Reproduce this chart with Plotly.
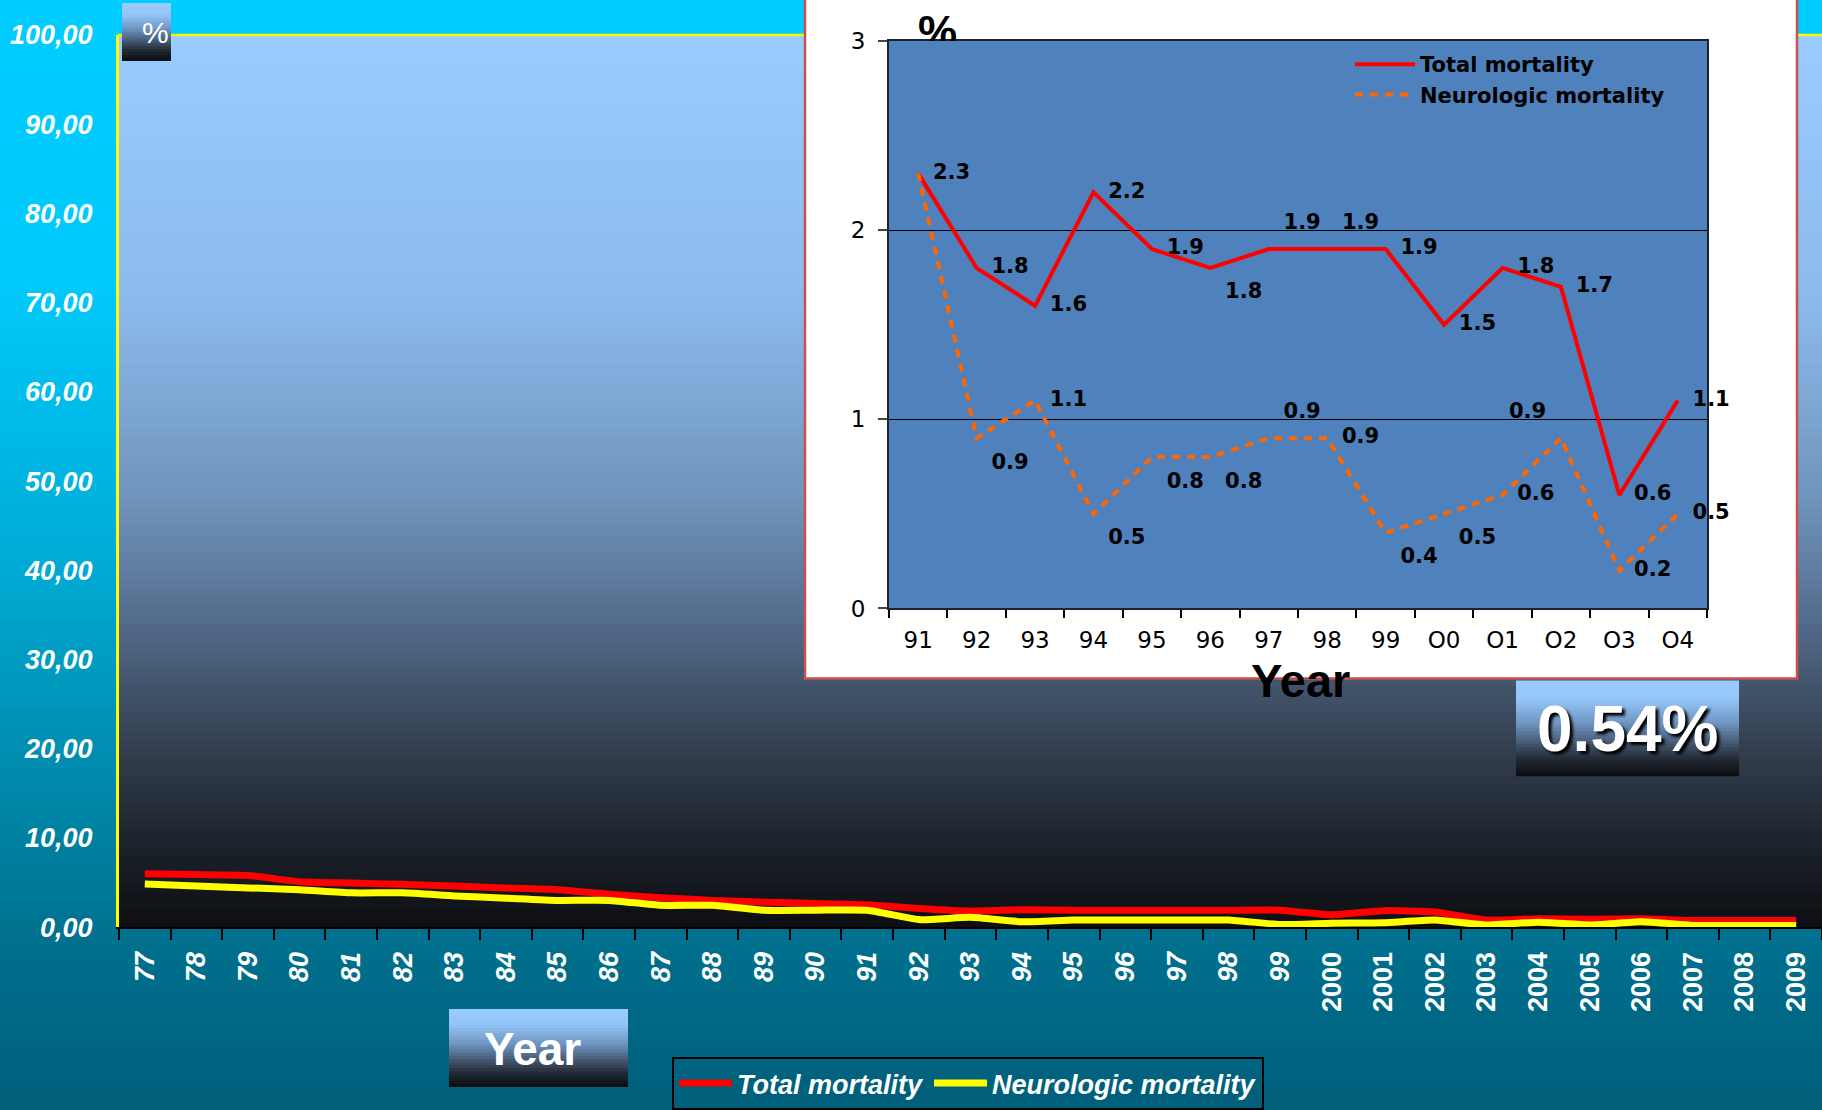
import plotly.graph_objects as go

W, H = 1822, 1110

# ---------------- data ----------------
main_years = ["77", "78", "79", "80", "81", "82", "83", "84", "85", "86", "87", "88",
              "89", "90", "91", "92", "93", "94", "95", "96", "97", "98", "99",
              "2000", "2001", "2002", "2003", "2004", "2005", "2006", "2007", "2008", "2009"]
main_total = [6.0, 5.9, 5.8, 5.1, 4.95, 4.8, 4.6, 4.4, 4.2, 3.7, 3.3, 3.0,
              2.8, 2.65, 2.5, 2.1, 1.8, 1.95, 1.9, 1.9, 1.9, 1.9, 1.9,
              1.4, 1.85, 1.7, 0.8, 0.95, 0.9, 0.95, 0.75, 0.75, 0.75]
main_neuro = [4.85, 4.6, 4.4, 4.2, 3.85, 3.85, 3.5, 3.25, 3.0, 3.0, 2.45, 2.45,
              1.9, 1.9, 1.9, 0.85, 1.1, 0.6, 0.8, 0.8, 0.8, 0.8, 0.3,
              0.45, 0.5, 0.8, 0.25, 0.55, 0.25, 0.6, 0.2, 0.2, 0.2]
y_tick_vals = [0, 10, 20, 30, 40, 50, 60, 70, 80, 90, 100]
y_tick_labels = ["0,00", "10,00", "20,00", "30,00", "40,00", "50,00",
                 "60,00", "70,00", "80,00", "90,00", "100,00"]

inset_years = ["91", "92", "93", "94", "95", "96", "97", "98", "99", "O0", "O1", "O2", "O3", "O4"]
inset_total = [2.3, 1.8, 1.6, 2.2, 1.9, 1.8, 1.9, 1.9, 1.9, 1.5, 1.8, 1.7, 0.6, 1.1]
inset_neuro = [2.3, 0.9, 1.1, 0.5, 0.8, 0.8, 0.9, 0.9, 0.4, 0.5, 0.6, 0.9, 0.2, 0.5]
inset_y_ticks = [0, 1, 2, 3]
inset_grid_vals = [1, 2]

series_names = ["Total mortality", "Neurologic mortality"]
highlight_text = "0.54%"
axis_unit = "%"
axis_title = "Year"

# ---------------- styles ----------------
BG_STOPS = [(0, (0, 204, 255)), (0.25, (0, 202, 252)), (0.5, (0, 172, 214)),
            (0.7, (0, 138, 172)), (0.85, (0, 112, 142)), (1.0, (0, 94, 122))]
PLOT_STOPS = [(0, (153, 204, 255)), (0.3, (140, 186, 236)), (0.52, (112, 148, 188)),
              (0.67, (80, 104, 134)), (0.78, (55, 68, 86)), (0.9, (30, 36, 45)), (1.0, (12, 14, 18))]
BOX_STOPS = [(0, (153, 204, 255)), (0.2, (148, 197, 247)), (0.45, (110, 148, 192)),
             (0.65, (70, 90, 115)), (0.82, (35, 42, 52)), (1.0, (10, 12, 15))]

ARIAL = "Liberation Sans, Arial, sans-serif"
DEJAVU = "DejaVu Sans, sans-serif"
FRAME = "#1B2230"


def lerp_color(stops, t):
    for (t0, c0), (t1, c1) in zip(stops, stops[1:]):
        if t <= t1:
            f = (t - t0) / (t1 - t0) if t1 > t0 else 0
            return "rgb(%d,%d,%d)" % tuple(round(a + (b - a) * f) for a, b in zip(c0, c1))
    return "rgb(%d,%d,%d)" % stops[-1][1]


shapes = []


def add_gradient(x0, x1, y0, y1, stops, n):
    h = (y1 - y0) / n
    for k in range(n):
        ya = y0 + k * h
        yb = min(y1, ya + h + 1)
        shapes.append(dict(type="rect", xref="paper", yref="paper", layer="below",
                           x0=x0 / W, x1=x1 / W, y0=1 - yb / H, y1=1 - ya / H,
                           fillcolor=lerp_color(stops, (k + 0.5) / n), line=dict(width=0)))


def px(x):
    return x / W


def py(y):
    return 1 - y / H


# backgrounds
add_gradient(0, W, 0, H, BG_STOPS, 111)
add_gradient(119, W, 35, 928, PLOT_STOPS, 100)
shapes.append(dict(type="line", xref="paper", yref="paper", layer="below",
                   x0=px(118), x1=1, y0=py(35), y1=py(35), line=dict(color="#FFFF00", width=2.5)))
add_gradient(122, 171, 3, 61, BOX_STOPS, 20)
# inset frame
shapes.append(dict(type="rect", xref="paper", yref="paper", layer="below",
                   x0=px(805), x1=px(1797), y0=py(679), y1=py(-6),
                   fillcolor="white", line=dict(color="#C8504D", width=2.5)))
shapes.append(dict(type="rect", xref="paper", yref="paper", layer="below",
                   x0=px(888), x1=px(1708), y0=py(610), y1=py(40),
                   fillcolor="#4F81BD", line=dict(width=0)))
add_gradient(1516, 1739, 681, 777, BOX_STOPS, 30)
add_gradient(449, 628, 1010, 1088, BOX_STOPS, 25)

fig = go.Figure()

# main chart lines
fig.add_trace(go.Scatter(x=main_years, y=main_total, name=series_names[0], mode="lines",
                         line=dict(color="#FF0000", width=7, shape="spline", smoothing=0.5),
                         xaxis="x", yaxis="y", legend="legend"))
fig.add_trace(go.Scatter(x=main_years, y=main_neuro, name=series_names[1], mode="lines",
                         line=dict(color="#FFFF00", width=7, shape="spline", smoothing=0.5),
                         xaxis="x", yaxis="y", legend="legend"))

# inset lines
total_pos = ["middle right", "middle right", "middle right", "middle right", "middle right",
             "bottom right", "top right", "top right", "middle right", "middle right",
             "middle right", "middle right", "middle right", "middle right"]
neuro_pos = ["middle right", "bottom right", "middle right", "bottom right", "bottom right",
             "bottom right", "top right", "middle right", "bottom right", "bottom right",
             "middle right", "top left", "middle right", "middle right"]
neuro_text = ["" if i == 0 else f"{v:g}" for i, v in enumerate(inset_neuro)]

fig.add_trace(go.Scatter(x=inset_years, y=inset_total, name=series_names[0],
                         mode="lines+markers+text", text=[f"{v:g}" for v in inset_total],
                         textposition=total_pos,
                         textfont=dict(family=DEJAVU, size=21, color="black", weight="bold"),
                         marker=dict(size=22, color="rgba(0,0,0,0)"),
                         line=dict(color="#FF0000", width=4),
                         xaxis="x2", yaxis="y2", legend="legend2", cliponaxis=False))
fig.add_trace(go.Scatter(x=inset_years, y=inset_neuro, name=series_names[1],
                         mode="lines+markers+text", text=neuro_text,
                         textposition=neuro_pos,
                         textfont=dict(family=DEJAVU, size=21, color="black", weight="bold"),
                         marker=dict(size=22, color="rgba(0,0,0,0)"),
                         line=dict(color="#FF6600", width=4, dash="8px,7px"),
                         xaxis="x2", yaxis="y2", legend="legend2", cliponaxis=False))

# inset unit label, partly hidden by the plot area (clipped)
fig.add_trace(go.Scatter(x=[0.5], y=[4.5], mode="text", text=[axis_unit],
                         textposition="middle center",
                         textfont=dict(family=ARIAL, size=44, color="black", weight="bold"),
                         xaxis="x3", yaxis="y3", showlegend=False, hoverinfo="skip"))

main_ticktext = [f"<i>{y}</i>" if len(y) == 2 else y for y in main_years]

fig.update_layout(
    width=W, height=H, template="none",
    margin=dict(l=0, r=0, t=0, b=0),
    paper_bgcolor="#005E7A", plot_bgcolor="rgba(0,0,0,0)",
    shapes=shapes,
    xaxis=dict(domain=[px(119), 1], anchor="y", type="category",
               categoryorder="array", categoryarray=main_years,
               range=[-0.5, len(main_years) - 0.5],
               tickmode="array", tickvals=main_years, ticktext=main_ticktext,
               tickson="boundaries", ticks="outside", ticklen=11, tickwidth=2, tickcolor="black",
               showline=True, linecolor="black", linewidth=2, showgrid=False, zeroline=False,
               tickangle=-90, ticklabelstandoff=12, automargin=False,
               tickfont=dict(family=ARIAL, size=27, color="white", weight="bold")),
    yaxis=dict(domain=[py(928), py(35)], anchor="x", range=[0, 100],
               tickmode="array", tickvals=y_tick_vals, ticktext=y_tick_labels,
               ticks="", showline=True, linecolor="#FFFF00", linewidth=3,
               showgrid=False, zeroline=False, ticklabelstandoff=18, automargin=False,
               tickfont=dict(family=ARIAL, size=27, color="white", weight="bold", style="italic")),
    xaxis2=dict(domain=[px(889), px(1707)], anchor="y2", type="category",
                categoryorder="array", categoryarray=inset_years,
                range=[-0.5, len(inset_years) - 0.5],
                tickson="boundaries", ticks="outside", ticklen=8, tickwidth=1.5, tickcolor="black",
                showline=True, mirror=True, linecolor=FRAME, linewidth=2,
                showgrid=False, zeroline=False, ticklabelstandoff=10, automargin=False,
                tickfont=dict(family=DEJAVU, size=23, color="black")),
    yaxis2=dict(domain=[py(609), py(41)], anchor="x2", range=[0, 3],
                tickmode="array", tickvals=inset_y_ticks,
                ticks="outside", ticklen=9, tickwidth=1.5, tickcolor="#444",
                showline=True, mirror=True, linecolor=FRAME, linewidth=2,
                showgrid=False, zeroline=False,
                minor=dict(tickmode="array", tickvals=inset_grid_vals, showgrid=True,
                           gridcolor="black", gridwidth=1, ticks=""),
                ticklabelstandoff=8, automargin=False,
                tickfont=dict(family=DEJAVU, size=23, color="black")),
    xaxis3=dict(domain=[px(890), px(985)], anchor="y3", range=[0, 1], visible=False, fixedrange=True),
    yaxis3=dict(domain=[py(41), 1], anchor="x3", range=[0, 41], visible=False, fixedrange=True),
    legend=dict(orientation="h", x=px(672), y=py(1058), xanchor="left", yanchor="top",
                bgcolor="rgba(0,0,0,0)", bordercolor="black", borderwidth=2, itemwidth=53,
                font=dict(family=ARIAL, size=27, color="white", weight="bold", style="italic")),
    legend2=dict(orientation="v", x=px(1350), y=py(44), xanchor="left", yanchor="top",
                 bgcolor="rgba(0,0,0,0)", borderwidth=0, itemwidth=60,
                 font=dict(family=DEJAVU, size=21, color="black", weight="bold")),
    annotations=[
        dict(text=axis_unit, xref="paper", yref="paper", x=px(155), y=py(33), showarrow=False,
             xanchor="center", yanchor="middle",
             font=dict(family=ARIAL, size=30, color="white")),
        dict(text=axis_title, xref="paper", yref="paper", x=px(532), y=py(1050), showarrow=False,
             xanchor="center", yanchor="middle",
             font=dict(family=ARIAL, size=46, color="white", weight="bold")),
        dict(text=highlight_text, xref="paper", yref="paper", x=px(1627), y=py(730), showarrow=False,
             xanchor="center", yanchor="middle",
             font=dict(family=ARIAL, size=64, color="white", weight="bold", shadow="3px 3px 3px #000")),
        dict(text=axis_title, xref="paper", yref="paper", x=px(1300), y=py(681), showarrow=False,
             xanchor="center", yanchor="middle",
             font=dict(family=ARIAL, size=47, color="black", weight="bold")),
    ],
)

fig.write_html("out.html", config={"displayModeBar": False},
               post_script="document.body.style.margin='0';")
